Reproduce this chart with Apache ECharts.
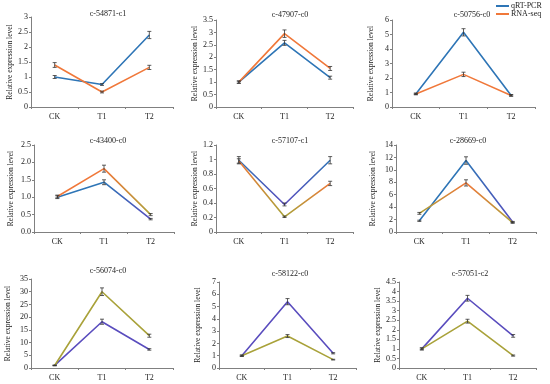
<!DOCTYPE html>
<html><head><meta charset="utf-8">
<script src="https://cdn.jsdelivr.net/npm/echarts@6/dist/echarts.min.js"></script>
<style>html,body{margin:0;padding:0;background:#fff}#c{width:550px;height:384px}</style>
</head><body><div id="c"></div>
<script>
var categories = ['CK','T1','T2'];
var titles = ['c-54871-c1','c-47907-c0','c-50756-c0','c-43400-c0','c-57107-c1','c-28669-c0','c-56074-c0','c-58122-c0','c-57051-c2'];
var qpcr = [[1.0,0.75,2.4],[1.0,2.58,1.18],[0.9,5.15,0.8],[1.0,1.43,0.37],[0.99,0.38,0.99],[1.8,11.5,1.6],[1.0,18.2,7.3],[1.0,5.4,1.2],[1.0,3.65,1.68]];
var qpcrErr = [[0.05,0.03,0.12],[0.05,0.1,0.06],[0.05,0.25,0.05],[0.04,0.07,0.02],[0.05,0.02,0.05],[0.1,0.6,0.1],[0.1,1.0,0.3],[0.05,0.25,0.05],[0.05,0.15,0.07]];
var rnaseq = [[1.4,0.5,1.32],[1.0,2.95,1.55],[0.9,2.25,0.8],[1.02,1.82,0.5],[0.98,0.21,0.67],[3.0,7.9,1.5],[1.0,30.0,12.7],[1.0,2.6,0.68],[1.0,2.45,0.65]];
var rnaErr = [[0.08,0.03,0.07],[0.04,0.15,0.08],[0.05,0.15,0.05],[0.04,0.1,0.03],[0.03,0.01,0.03],[0.15,0.5,0.1],[0.1,1.5,0.6],[0.05,0.12,0.03],[0.05,0.1,0.03]];
var yMax = [3,3.5,6,2.5,1.2,14,35,7,4.5];
var yInterval = [0.5,0.5,1,0.5,0.2,2,5,1,0.5];
var yDecimals = [-1,-1,-1,1,-1,-1,-1,-1,-1];

var B='#2E75B6', O='#F0783A', P='#5A4DBE', G='#A9A23A';
function grad(stops){return {type:'linear',x:0,y:0,x2:1,y2:0,colorStops:stops.map(function(c,i){return {offset:i/(stops.length-1),color:c};})};}
var qColors=[B,B,B,grad([B,B,P]),grad([B,P,B]),grad([B,B,P]),P,P,P];
var rColors=[O,O,O,grad([O,O,G]),grad([O,G,O]),grad([G,O,G]),G,G,G];

var grids=[
 {left:31,top:17,width:142,height:90},
 {left:216,top:20,width:137,height:87},
 {left:392,top:20,width:143,height:87},
 {left:34,top:145,width:140,height:87},
 {left:216,top:145,width:137,height:87},
 {left:396,top:145,width:140,height:87},
 {left:31,top:279,width:142,height:89},
 {left:219,top:282,width:137,height:86},
 {left:399,top:282,width:137,height:86}
];
var titleXY=[[103,5],[285,6],[467,6],[103,132],[285,132],[463,132],[103,262],[285,265],[465,265]];
var font='Liberation Serif';
var option={animation:false,backgroundColor:'#fff',grid:[],xAxis:[],yAxis:[],series:[],title:[],
 legend:{data:['qRT-PCR','RNA-seq'],orient:'vertical',left:494,top:0,itemWidth:13,itemHeight:2,itemGap:0,icon:'rect',padding:[2,2,2,2],
  textStyle:{fontFamily:font,fontSize:8,lineHeight:7,color:'#222',padding:[0,0,0,-3]}}};

function errItem(params,api){
  var x=api.value(0), lo=api.value(1), hi=api.value(2);
  var p1=api.coord([x,lo]), p2=api.coord([x,hi]);
  var st={stroke:api.visual('color'),lineWidth:0.8};
  return {type:'group',children:[
   {type:'line',shape:{x1:p1[0],y1:p1[1],x2:p2[0],y2:p2[1]},style:st},
   {type:'line',shape:{x1:p1[0]-2,y1:p1[1],x2:p1[0]+2,y2:p1[1]},style:st},
   {type:'line',shape:{x1:p2[0]-2,y1:p2[1],x2:p2[0]+2,y2:p2[1]},style:st}]};
}
for(var i=0;i<9;i++){
  var g=grids[i];
  option.grid.push({left:g.left,top:g.top,width:g.width,height:g.height});
  option.title.push({text:titles[i],left:titleXY[i][0],top:titleXY[i][1],textAlign:'center',
    textStyle:{fontFamily:font,fontSize:8,fontWeight:'normal',color:'#222'}});
  option.xAxis.push({type:'category',gridIndex:i,data:categories,boundaryGap:true,
    axisLine:{lineStyle:{color:'#808080',width:1}},axisTick:{show:true,length:2,lineStyle:{color:'#808080'}},
    axisLabel:{fontFamily:font,fontSize:8,color:'#222',margin:6}});
  (function(d){
  option.yAxis.push({type:'value',gridIndex:i,min:0,max:yMax[i],interval:yInterval[i],
    name:'Relative expression level',nameLocation:'middle',nameGap:(yMax[i]>=10||d>0?19:17),
    nameTextStyle:{fontFamily:font,fontSize:7.5,color:'#222'},
    axisLine:{show:true,lineStyle:{color:'#808080',width:1}},axisTick:{show:true,length:2,lineStyle:{color:'#808080'}},
    splitLine:{show:false},
    axisLabel:{fontFamily:font,fontSize:8,color:'#222',margin:3,formatter:function(v){return d>0?v.toFixed(d):String(+v.toFixed(2));}}});
  })(yDecimals[i]);
  option.series.push({name:'qRT-PCR',type:'line',xAxisIndex:i,yAxisIndex:i,data:qpcr[i],showSymbol:false,symbol:'none',
    lineStyle:{width:1.6,color:qColors[i]},itemStyle:{color:B},z:3});
  option.series.push({name:'RNA-seq',type:'line',xAxisIndex:i,yAxisIndex:i,data:rnaseq[i],showSymbol:false,symbol:'none',
    lineStyle:{width:1.6,color:rColors[i]},itemStyle:{color:O},z:3});
  option.series.push({type:'custom',xAxisIndex:i,yAxisIndex:i,renderItem:errItem,itemStyle:{color:'#333'},z:4,
    data:qpcr[i].map(function(v,k){return [k,v-qpcrErr[i][k],v+qpcrErr[i][k]];})});
  option.series.push({type:'custom',xAxisIndex:i,yAxisIndex:i,renderItem:errItem,itemStyle:{color:'#333'},z:4,
    data:rnaseq[i].map(function(v,k){return [k,v-rnaErr[i][k],v+rnaErr[i][k]];})});
}
var chart=echarts.init(document.getElementById('c'),null,{renderer:'canvas'});
chart.setOption(option);
</script></body></html>
